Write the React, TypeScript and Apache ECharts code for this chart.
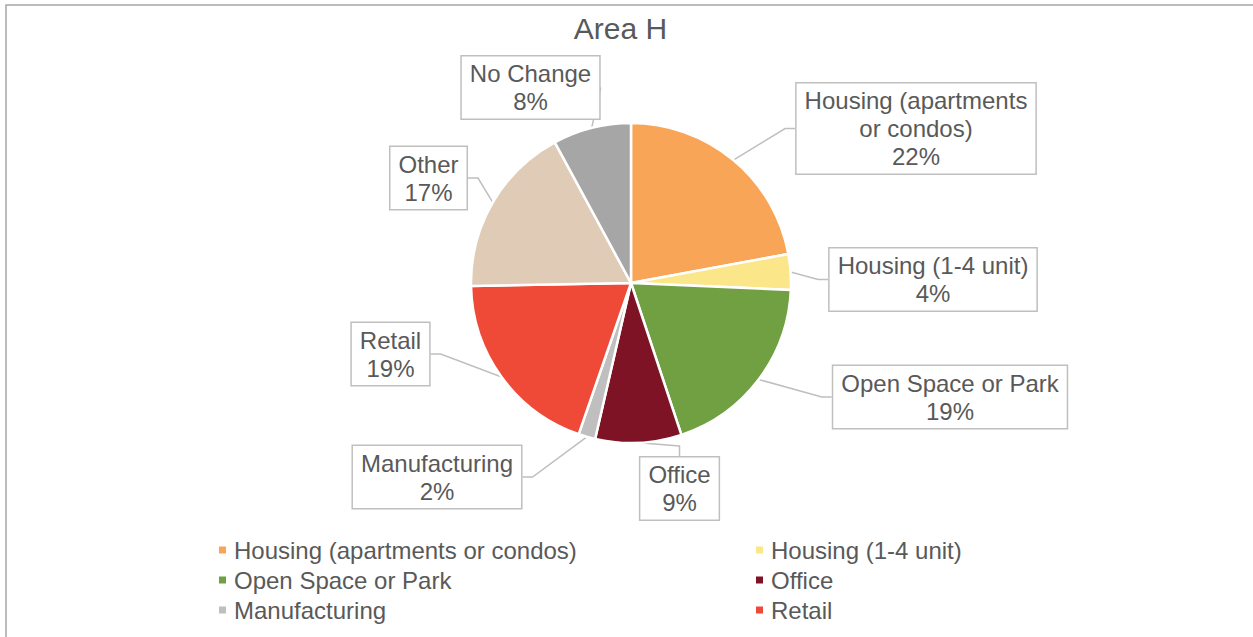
import React, { useEffect, useRef } from "react";
import * as echarts from "echarts";

const categories = [
  "Housing (apartments or condos)",
  "Housing (1-4 unit)",
  "Open Space or Park",
  "Office",
  "Manufacturing",
  "Retail",
  "Other",
  "No Change",
];
const labelTexts = [
  "Housing (apartments\nor condos)",
  "Housing (1-4 unit)",
  "Open Space or Park",
  "Office",
  "Manufacturing",
  "Retail",
  "Other",
  "No Change",
];
const shares = [22.1, 3.6, 19.2, 8.7, 1.7, 19.4, 17.4, 7.9];
const colors = ["#F9A557", "#FBE68A", "#70A042", "#7F1326", "#BFBFBF", "#EF4938", "#DFCBB6", "#A6A6A6"];
const labelCenters: [number, number][] = [
  [916, 128.5],
  [933, 279.5],
  [950, 397],
  [679.5, 488.5],
  [437, 477],
  [390.5, 354],
  [428.5, 178],
  [530.5, 87.5],
];
const legendLeft = [categories[0], categories[2], categories[4]];
const legendRight = [categories[1], categories[3], categories[5]];

const FONT = "'Liberation Sans', Arial, sans-serif";
const TXT = "#595959";

export default function App() {
  const ref = useRef<HTMLDivElement>(null);
  useEffect(() => {
    if (!ref.current) return;
    const chart = echarts.init(ref.current, null, { renderer: "svg" });
    const legendCommon = {
      orient: "vertical" as const,
      top: 538,
      padding: 0,
      itemGap: 6,
      itemWidth: 9,
      itemHeight: 9,
      icon: "rect",
      selectedMode: false,
      textStyle: { fontSize: 24, color: TXT, fontFamily: FONT, padding: [0, 0, 0, 2] },
    };
    chart.setOption({
      animation: false,
      backgroundColor: "#ffffff",
      textStyle: { fontFamily: FONT },
      title: {
        text: "Area H",
        left: 620.5,
        textAlign: "center",
        top: 13,
        padding: 0,
        textStyle: { fontSize: 30, fontWeight: "normal", color: TXT, fontFamily: FONT },
      },
      graphic: [
        {
          type: "rect",
          shape: { x: 6, y: 5, width: 1400, height: 800 },
          style: { fill: "none", stroke: "#A6A6A6", lineWidth: 1.5 },
          silent: true,
        },
      ],
      legend: [
        { ...legendCommon, left: 217, data: legendLeft },
        { ...legendCommon, left: 754, data: legendRight },
      ],
      series: [
        {
          type: "pie",
          center: [631, 283],
          radius: 160,
          startAngle: 90,
          clockwise: true,
          data: categories.map((name, i) => ({
            name,
            value: shares[i],
            itemStyle: { color: colors[i] },
          })),
          itemStyle: { borderColor: "#ffffff", borderWidth: 2.5 },
          label: {
            show: true,
            position: "outside",
            formatter: (p: any) => labelTexts[p.dataIndex] + "\n" + Math.round(p.percent) + "%",
            fontSize: 24,
            lineHeight: 28,
            color: TXT,
            fontFamily: FONT,
            align: "center",
            backgroundColor: "#ffffff",
            borderColor: "#BFBFBF",
            borderWidth: 1.5,
            padding: [3, 8, 3, 8],
          },
          labelLine: {
            show: true,
            length: 10,
            length2: 10,
            lineStyle: { color: "#BFBFBF", width: 1.5 },
          },
          labelLayout: (params: any) => {
            const c = labelCenters[params.dataIndex];
            return { x: c[0], y: c[1], align: "center", verticalAlign: "middle" };
          },
          emphasis: { disabled: true },
        },
      ],
    });
    return () => chart.dispose();
  }, []);
  return (
    <div
      ref={ref}
      style={{ position: "absolute", left: 0, top: 0, width: 1253, height: 637 }}
    />
  );
}
